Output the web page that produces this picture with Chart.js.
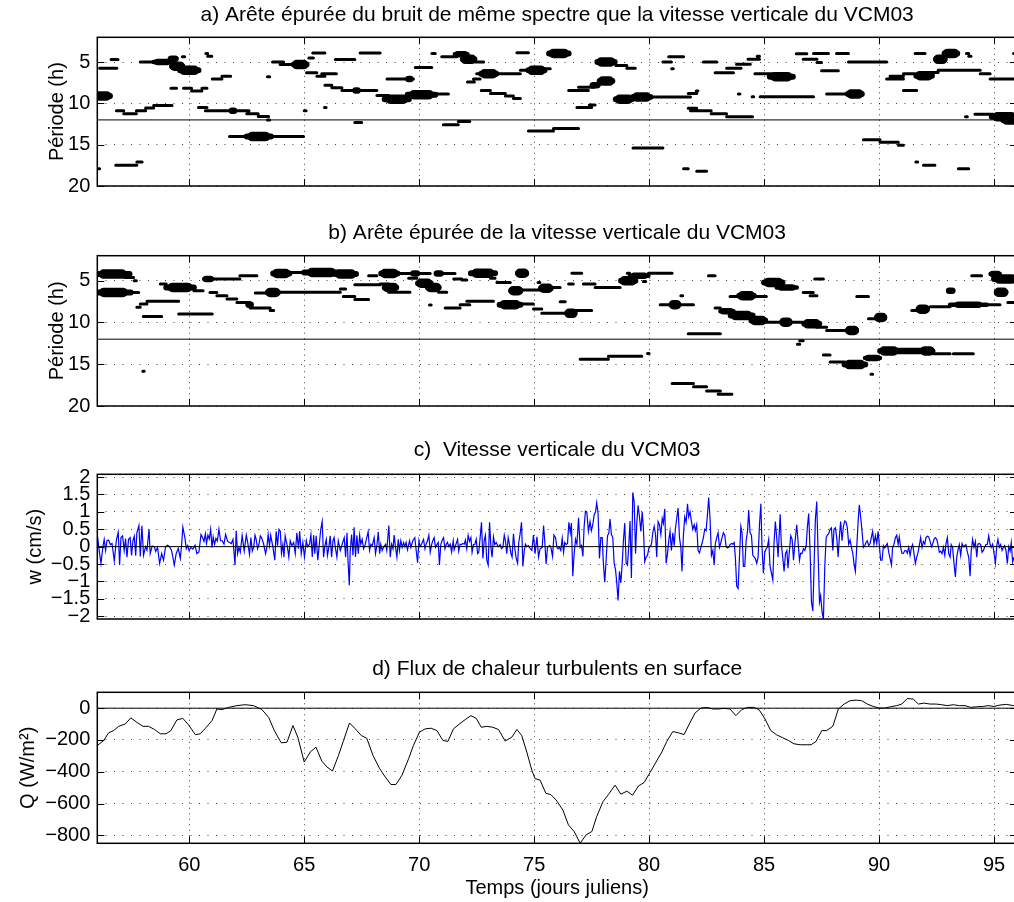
<!DOCTYPE html>
<html><head><meta charset="utf-8">
<script src="https://cdn.jsdelivr.net/npm/chart.js@4.4.0/dist/chart.umd.min.js"></script>
<style>
html,body{margin:0;padding:0;background:#fff;overflow:hidden;width:1014px;height:902px;position:relative;}
canvas{position:absolute;left:0;}
</style></head><body>
<canvas id="ca"></canvas><canvas id="cb"></canvas><canvas id="cc"></canvas><canvas id="cd"></canvas>
<script>
// ---------------- DATA ----------------
const xRange = [56, 96];                       // jours juliens
const xTickDays = [60, 65, 70, 75, 80, 85, 90, 95];
const periodRange = [2, 20];                   // heures (axe inversé)
const periodTicks = [5, 10, 15, 20];
const periodRefLine = 12;
const wRange = [-2.08, 2.08];
const wTicks = [-2, -1.5, -1, -0.5, 0, 0.5, 1, 1.5, 2];
const qRange = [-850, 100];
const qTicks = [-800, -600, -400, -200, 0];
const titles = [
  'a) Arête épurée du bruit de même spectre que la vitesse verticale du VCM03',
  'b) Arête épurée de la vitesse verticale du VCM03',
  'c)  Vitesse verticale du VCM03',
  'd) Flux de chaleur turbulents en surface'
];
const yTitles = ['Période (h)', 'Période (h)', 'w (cm/s)', 'Q (W/m²)'];
const xTitle = 'Temps (jours juliens)';

// ridges: [start day, end day, period (h), amplitude class 1..3]
const ridgesA = [
 [55.9,56.55,9.1,3],[56.0,56.1,17.9,1],[56.1,56.85,5.74,1],[56.6,56.9,4.7,1],
 [56.83,57.15,10.9,1],[57.15,57.7,11.24,1],[57.7,58.1,10.9,1],[58.1,58.45,10.56,1],[58.45,59.25,10.25,1],
 [56.8,57.72,17.5,1],[57.72,57.95,17.1,1],
 [57.87,58.5,4.98,1],[58.45,59.2,4.98,2],[59.15,59.45,4.6,2],[59.25,59.7,5.5,3],[59.6,60.4,6.0,3],[59.7,59.8,4.35,1],
 [59.2,59.45,8.17,1],[59.75,60.1,8.17,1],[60.1,60.55,8.5,1],[60.55,60.77,8.17,1],
 [60.72,60.8,3.95,1],[60.8,60.98,4.3,1],
 [60.4,60.77,10.5,1],[60.7,61.86,10.9,1],[61.82,61.98,10.9,2],[61.86,62.6,10.9,1],[62.5,63.0,11.24,1],[63.0,63.45,11.6,1],[63.4,63.5,12.0,1],
 [61.0,61.42,7.05,1],[61.42,61.8,6.7,1],
 [61.75,64.97,14.02,1],[62.5,63.55,14.02,3],
 [63.4,63.5,6.77,1],
 [63.62,64.1,4.98,1],[63.95,64.54,5.3,1],[64.55,65.1,5.3,3],
 [65.0,65.08,10.9,1],[65.2,65.4,4.5,1],[65.37,65.9,3.9,1],
 [65.1,65.55,6.3,1],[65.55,65.9,6.7,1],[65.76,66.4,6.4,1],[65.88,65.95,10.5,1],
 [65.9,66.2,7.8,1],[66.2,66.64,8.1,1],[66.64,68.16,8.45,1],[67.2,67.35,8.45,2],
 [66.35,67.2,4.7,1],[67.43,68.3,3.9,1],[67.2,67.5,12.3,1],
 [68.16,68.67,9.04,1],[68.5,69.55,9.5,3],[68.6,69.75,7.05,1],[69.5,69.65,7.05,2],
 [69.5,70.7,8.95,3],[70.77,71.27,8.85,1],
 [69.83,70.55,5.65,1],[70.55,70.7,3.95,1],
 [70.98,71.64,4.35,1],[71.55,72.1,4.06,2],[71.9,72.4,4.66,3],[72.45,72.8,5.0,1],
 [71.05,71.7,12.6,1],[71.7,72.2,12.2,1],
 [72.1,72.4,7.4,1],[72.36,72.65,7.05,1],[72.5,74.4,6.4,1],[72.7,73.35,6.4,3],
 [72.7,73.1,8.45,1],[73.1,73.75,8.8,1],[73.75,74.1,9.1,1],[74.1,74.4,9.4,1],
 [74.25,74.75,3.86,1],
 [75.65,76.5,3.95,3],
 [74.4,74.9,6.0,1],[74.75,75.45,6.0,3],[75.45,75.7,5.8,1],
 [77.75,78.5,4.98,3],[78.55,79.03,5.4,1],[79.03,79.4,5.75,1],
 [76.5,77.36,8.45,1],[76.93,77.6,8.05,1],[77.5,77.8,7.8,2],[77.85,78.4,7.3,3],
 [76.86,77.5,10.5,1],[77.4,77.65,10.2,1],
 [78.55,79.25,9.5,3],[79.3,80.05,9.24,3],[80.1,81.8,9.24,1],[81.7,82.07,8.8,1],[82.05,82.12,8.5,1],
 [74.75,75.84,13.35,1],[75.84,76.93,13.03,1],
 [79.3,80.6,15.4,1],
 [80.6,80.97,5.0,1],[80.85,81.5,4.35,1],[80.98,81.05,5.8,1],
 [81.5,81.7,17.9,1],[82.07,82.5,18.2,1],
 [81.7,82.07,10.6,1],[81.8,82.7,10.9,1],[82.7,83.37,11.24,1],[83.37,84.5,11.63,1],
 [82.36,82.94,4.98,1],
 [82.87,83.67,6.3,1],[83.37,84.0,5.74,1],[83.8,84.4,5.26,1],[84.3,84.8,4.66,1],[84.7,84.8,4.3,1],
 [83.88,83.95,8.85,1],[84.48,84.55,9.2,1],
 [84.6,85.4,6.4,1],[85.25,86.25,6.77,3],
 [84.83,87.15,9.2,1],
 [86.4,86.86,3.98,1],[87.15,87.8,3.95,1],[88.15,88.67,3.95,1],
 [86.7,87.3,4.66,1],[87.3,87.5,5.06,1],[87.5,88.23,6.06,1],
 [88.67,90.33,4.98,1],
 [87.72,88.67,8.85,1],[88.65,89.25,8.85,3],
 [89.32,90.04,14.4,1],[90.04,90.84,14.7,1],[90.84,91.06,15.06,1],
 [90.33,91.06,7.05,1],[90.48,91.06,6.7,1],[91.06,91.57,6.4,1],[91.62,92.3,6.65,3],[92.2,92.57,6.26,1],
 [92.57,94.4,5.98,1],[94.4,94.83,6.4,1],[94.83,96,7.05,1],
 [91.06,91.64,8.45,1],[91.57,92.0,3.95,1],
 [92.48,92.85,4.66,3],[92.85,93.4,3.95,3],
 [93.8,93.9,3.95,1],[93.9,94.0,4.3,1],
 [91.6,91.68,17.1,1],[91.93,92.43,17.5,1],[93.45,93.9,17.9,1],
 [93.76,93.84,11.63,1],[94.17,94.97,11.3,1],[94.9,96,11.63,3],[95.4,96,12.0,3],
 [95.85,96,3.95,1]
];
const ridgesB = [
 [55.95,57.4,4.2,3],[57.2,57.58,4.6,1],[57.6,57.7,5.0,1],
 [55.95,57.45,6.4,3],[57.43,57.8,6.4,1],
 [57.72,57.87,8.17,1],[57.87,58.16,7.78,1],[58.16,59.54,7.46,1],
 [58.0,58.8,9.29,1],
 [58.74,59.0,5.4,1],[59.0,60.2,5.8,3],[60.2,60.6,6.19,1],
 [59.54,61.0,8.97,1],
 [60.65,61.0,4.8,2],[61.06,62.2,4.8,1],[62.2,62.94,4.4,1],
 [60.9,61.2,6.4,1],[61.2,61.64,6.8,1],[61.64,62.07,7.2,1],[62.07,62.65,7.6,1],[62.55,62.7,7.86,2],[62.65,63.52,8.25,1],[63.52,63.67,8.57,1],
 [62.87,63.45,6.47,1],[63.42,63.85,6.4,3],[63.9,66.57,6.39,1],[66.57,66.8,6.0,1],
 [63.65,64.35,4.13,3],[64.3,64.97,4.0,1],[65.0,66.5,4.0,3],[66.35,67.25,4.2,3],
 [66.7,67.2,6.9,1],[67.2,67.8,7.26,1],
 [67.2,68.3,5.47,1],[67.8,68.16,4.4,1],
 [68.35,69.05,4.13,3],[69.1,69.6,4.13,1],[69.7,69.95,4.13,2],[69.97,70.48,4.13,1],[70.72,70.98,4.13,2],[71.0,71.56,4.13,1],
 [68.3,68.67,5.4,1],[68.5,69.0,5.8,3],[68.67,69.6,6.39,1],
 [69.54,69.9,4.7,1],[69.95,70.5,5.3,3],[70.38,70.85,5.8,3],[70.84,71.2,6.39,1],
 [70.45,70.52,7.9,1],
 [71.13,71.78,8.25,1],[71.78,72.2,7.86,1],[72.07,73.23,7.46,1],
 [71.86,72.07,4.9,1],[72.25,73.3,4.1,3],[73.1,73.3,4.7,1],[73.38,73.96,5.2,1],
 [71.5,71.85,4.8,1],
 [73.5,74.4,7.86,3],[74.0,74.4,6.19,3],[74.3,74.65,4.1,3],
 [57.98,58.04,15.83,1],
 [74.4,75.26,6.1,1],[75.3,75.72,5.9,3],[75.77,76.13,5.8,1],
 [74.4,74.97,7.78,1],[74.97,75.33,8.37,1],[75.33,76.64,8.9,1],[76.45,76.75,8.9,3],[76.78,77.5,8.57,1],
 [75.17,75.25,5.2,1],[76.64,77.07,4.1,1],[76.5,76.7,5.4,1],[76.13,76.35,7.5,1],
 [77.14,77.65,5.4,1],[77.65,78.74,5.8,1],[78.78,79.4,5.0,3],[79.17,79.97,4.4,2],[79.75,79.85,5.1,1],[79.05,79.15,4.1,1],
 [79.97,81.0,4.1,1],
 [77.0,78.23,14.4,1],[78.23,79.68,14.05,1],[79.93,80.0,13.7,1],
 [80.48,81.93,7.86,1],[81.0,81.25,7.86,3],[81.38,81.46,6.8,1],
 [81.7,83.1,11.35,1],
 [81.0,81.93,17.3,1],[81.93,82.5,17.7,1],[82.5,83.1,18.2,1],[83.0,83.6,18.6,1],
 [82.58,82.87,4.4,1],
 [82.87,83.1,8.25,1],[83.1,83.67,8.65,2],[83.55,84.5,9.17,3],[84.45,85.05,9.76,3],[85.1,86.0,9.96,1],[85.8,86.1,9.96,3],[86.13,86.7,9.96,1],[86.75,87.4,10.16,3],[87.29,87.72,10.56,1],[87.72,88.74,10.95,1],[88.65,89.0,10.95,3],
 [83.52,85.1,6.9,1],[83.92,84.55,6.8,3],
 [85.0,85.8,5.2,3],[85.55,86.42,5.8,2],
 [86.7,87.14,6.4,1],[87.0,87.3,6.8,1],[87.2,87.58,4.8,1],
 [89.03,89.54,6.9,1],
 [86.45,86.55,12.6,1],[86.55,86.7,12.2,1],
 [87.58,87.87,13.9,1],[87.87,88.52,14.72,1],[88.5,89.4,15.04,3],[89.39,90.04,14.25,2],[90.04,92.36,13.4,2],[90.05,90.8,13.4,3],[91.9,92.3,13.4,3],[92.36,93.09,13.73,1],[93.23,94.1,13.73,1],
 [89.65,89.72,16.2,1],
 [89.54,90.19,9.56,1],[89.92,90.22,9.4,3],
 [91.42,92.07,8.57,1],[91.72,92.08,8.4,3],[92.22,93.09,8.1,1],[93.09,94.68,7.86,2],[94.68,95.26,7.86,1],
 [93.0,93.23,6.2,2],
 [94.03,94.46,4.4,1],[94.85,95.25,4.2,2],[95.0,96,4.8,3],
 [95.12,95.5,6.39,3],[95.6,96,7.6,1]
];

// vitesse verticale w (cm/s): [jour, valeur]
const wPoints = [
 [56.01,0.29],[56.10,-0.2],[56.16,-0.48],[56.25,0.03],[56.30,0.21],[56.36,-0.11],[56.42,0.17],[56.49,0.19],[56.57,0.06],[56.64,0.09],
 [56.74,-0.41],[56.83,0.19],[56.91,0.41],[56.97,-0.53],[57.03,0.26],[57.10,0.31],[57.17,-0.11],[57.23,0.23],[57.29,-0.3],[57.36,0.21],
 [57.43,0.26],[57.49,-0.25],[57.55,0.17],[57.61,0.3],[57.67,-0.26],[57.72,0.4],[57.81,0.61],[57.87,-0.28],[57.94,0.6],[58.01,-0.25],
 [58.10,0.0],[58.16,-0.1],[58.25,0.5],[58.30,-0.2],[58.39,0.02],[58.48,0.0],[58.54,-0.14],[58.62,-0.02],[58.71,-0.48],[58.80,-0.2],
 [58.88,-0.39],[58.97,0.0],[59.06,0.04],[59.14,0.0],[59.23,-0.11],[59.35,-0.53],[59.43,-0.2],[59.52,-0.05],[59.61,-0.34],[59.67,0.07],
 [59.72,0.56],[59.81,0.26],[59.87,-0.06],[59.93,0.03],[59.99,-0.11],[60.07,-0.02],[60.16,-0.07],[60.25,0.04],[60.33,-0.2],[60.42,-0.15],
 [60.51,0.35],[60.58,0.26],[60.64,0.15],[60.70,0.37],[60.75,0.09],[60.81,0.33],[60.87,0.22],[60.93,0.5],[60.99,-0.02],[61.04,0.28],
 [61.10,0.06],[61.16,0.24],[61.22,0.16],[61.29,0.5],[61.36,0.17],[61.43,0.17],[61.51,0.07],[61.58,0.35],[61.67,0.15],[61.75,0.12],
 [61.83,0.09],[61.90,0.21],[61.99,-0.53],[62.04,0.46],[62.10,-0.2],[62.16,-0.02],[62.22,-0.16],[62.30,0.32],[62.39,-0.13],[62.48,0.33],
 [62.54,0.12],[62.62,-0.22],[62.68,0.26],[62.74,-0.13],[62.80,-0.02],[62.86,0.33],[62.91,0.21],[62.97,-0.06],[63.03,0.06],[63.09,0.31],
 [63.14,0.26],[63.23,0.09],[63.32,-0.2],[63.38,0.0],[63.43,0.35],[63.49,0.03],[63.54,0.33],[63.64,-0.02],[63.72,-0.39],[63.78,0.44],
 [63.84,0.03],[63.90,0.5],[63.96,0.44],[64.01,-0.2],[64.07,0.06],[64.12,-0.3],[64.17,0.31],[64.26,0.03],[64.33,-0.3],
 [64.39,0.17],[64.46,0.03],[64.54,0.12],[64.61,-0.2],[64.68,0.4],[64.75,-0.06],[64.80,0.44],[64.87,-0.2],[64.94,0.12],[65.01,-0.3],
 [65.09,0.17],[65.14,0.0],[65.23,0.07],[65.29,0.35],[65.35,-0.3],[65.41,0.33],[65.46,-0.2],[65.52,0.31],[65.59,-0.39],[65.67,0.17],
 [65.72,0.5],[65.78,0.72],[65.84,-0.3],[65.90,0.03],[65.96,0.21],[66.01,-0.25],[66.07,-0.02],[66.13,0.31],[66.19,-0.3],[66.25,0.17],
 [66.30,0.26],[66.36,-0.06],[66.42,-0.3],[66.48,0.17],[66.57,-0.11],[66.65,0.07],[66.74,0.26],[66.80,-0.3],[66.86,0.4],[66.91,-0.48],
 [66.96,-1.11],[67.00,-0.11],[67.06,0.35],[67.12,-0.25],[67.17,0.56],[67.23,-0.3],[67.29,0.33],[67.35,-0.2],[67.41,0.33],[67.46,0.07],
 [67.52,0.21],[67.58,-0.06],[67.64,0.03],[67.72,0.26],[67.78,0.43],[67.84,-0.11],[67.90,0.07],[67.96,0.03],[68.04,0.26],[68.10,-0.2],
 [68.16,0.03],[68.22,0.43],[68.28,-0.2],[68.33,0.07],[68.39,-0.11],[68.45,-0.02],[68.54,0.07],[68.59,-0.11],[68.68,0.61],[68.74,-0.3],
 [68.80,0.07],[68.86,-0.06],[68.91,0.33],[68.97,-0.02],[69.03,-0.3],[69.09,0.21],[69.14,-0.11],[69.20,0.17],[69.26,-0.02],[69.32,0.12],
 [69.38,0.0],[69.43,0.12],[69.49,-0.09],[69.58,0.17],[69.64,-0.02],[69.72,0.17],[69.81,0.26],[69.87,-0.11],[69.93,-0.46],[69.99,0.17],
 [70.04,0.0],[70.10,0.07],[70.19,0.21],[70.25,-0.06],[70.30,0.07],[70.36,0.17],[70.42,0.33],[70.48,-0.16],[70.54,0.06],[70.59,0.17],
 [70.65,0.26],[70.71,-0.02],[70.77,0.06],[70.83,0.12],[70.88,-0.53],[70.94,0.06],[71.00,0.19],[71.06,0.26],[71.12,-0.06],[71.17,0.06],
 [71.23,0.12],[71.29,0.0],[71.35,0.07],[71.41,-0.16],[71.48,0.17],[71.52,-0.09],[71.58,0.03],[71.67,0.21],[71.72,-0.13],[71.78,0.07],
 [71.84,0.06],[71.90,0.09],[71.96,0.07],[72.01,0.19],[72.07,-0.06],[72.13,0.33],[72.19,0.15],[72.25,0.26],[72.30,-0.16],[72.36,0.06],
 [72.42,0.07],[72.48,0.21],[72.54,-0.2],[72.59,-0.16],[72.65,0.26],[72.71,0.70],[72.77,-0.34],[72.83,0.19],[72.88,0.33],[72.94,-0.39],
 [73.00,-0.53],[73.06,0.70],[73.12,-0.02],[73.17,-0.3],[73.23,0.28],[73.29,0.06],[73.35,0.12],[73.41,0.03],[73.46,0.0],[73.52,0.06],
 [73.58,-0.06],[73.64,-0.02],[73.70,0.33],[73.75,0.17],[73.81,-0.2],[73.87,0.26],[73.93,0.06],[73.99,-0.2],[74.04,-0.3],[74.10,0.37],
 [74.16,-0.06],[74.22,-0.34],[74.28,-0.48],[74.33,0.12],[74.39,0.37],[74.45,0.70],[74.51,-0.57],[74.57,-0.11],[74.62,0.07],[74.68,0.0],
 [74.75,0.03],[74.83,-0.06],[74.90,-0.11],[74.97,0.33],[75.04,-0.2],[75.12,0.28],[75.19,-0.3],[75.26,-0.06],[75.35,-0.02],[75.41,0.61],
 [75.46,0.17],[75.52,-0.5],[75.58,-0.02],[75.67,0.03],[75.72,0.0],[75.80,-0.28],[75.86,0.33],[75.93,0.26],[75.99,-0.02],[76.04,-0.06],
 [76.10,-0.02],[76.16,-0.11],[76.22,0.24],[76.28,-0.16],[76.33,0.12],[76.39,0.06],[76.45,0.09],[76.51,0.7],[76.57,0.4],[76.62,0.68],
 [76.68,-0.85],[76.74,-0.2],[76.80,0.21],[76.86,0.07],[76.93,0.83],[77.00,-0.02],[77.06,0.03],[77.12,-0.28],[77.17,0.54],[77.23,1.02],
 [77.29,1.0],[77.36,0.44],[77.43,0.72],[77.49,0.46],[77.55,0.63],[77.61,0.91],[77.67,1.0],[77.72,1.26],[77.78,0.96],[77.84,-0.34],
 [77.90,0.26],[77.96,0.26],[78.01,-0.48],[78.07,-1.02],[78.13,-0.39],[78.19,0.31],[78.25,0.4],[78.30,0.79],[78.36,0.35],[78.42,0.26],
 [78.48,-0.48],[78.54,-0.67],[78.59,-1.02],[78.65,-1.55],[78.71,-0.71],[78.77,-1.04],[78.83,-0.48],[78.88,0.15],[78.94,0.68],[79.00,-0.48],
 [79.06,-0.53],[79.12,0.09],[79.17,0.74],[79.23,-0.9],[79.29,1.56],[79.35,1.28],[79.41,-0.2],[79.46,0.63],[79.52,1.19],[79.58,0.86],
 [79.64,0.44],[79.70,1.0],[79.75,0.54],[79.81,-0.43],[79.87,-0.3],[79.93,-0.25],[79.99,-0.04],[80.04,0.0],[80.10,0.07],[80.16,0.4],
 [80.22,0.58],[80.28,0.35],[80.33,-0.3],[80.39,0.72],[80.45,0.63],[80.51,0.35],[80.57,0.81],[80.62,0.67],[80.68,1.09],[80.74,-0.48],
 [80.80,-0.2],[80.86,0.21],[80.91,0.44],[80.97,-0.11],[81.03,0.4],[81.09,0.03],[81.14,0.5],[81.20,0.81],[81.26,1.11],[81.32,0.26],
 [81.38,-0.02],[81.43,-0.71],[81.49,0.31],[81.55,0.86],[81.61,0.7],[81.67,1.23],[81.72,0.86],[81.78,1.0],[81.84,0.72],[81.90,0.5],
 [81.96,0.63],[82.01,0.46],[82.07,0.63],[82.13,-0.11],[82.19,-0.18],[82.25,-0.02],[82.30,0.09],[82.36,0.26],[82.42,0.5],[82.48,0.46],
 [82.54,0.95],[82.59,1.41],[82.65,0.81],[82.71,-0.25],[82.77,-0.11],[82.83,-0.53],[82.88,0.09],[82.94,0.26],[83.00,0.4],[83.06,-0.02],
 [83.12,0.12],[83.17,0.26],[83.23,0.4],[83.29,0.33],[83.35,0.0],[83.41,-0.04],[83.46,-0.02],[83.52,0.06],[83.58,0.09],[83.64,0.07],
 [83.70,0.12],[83.75,-0.3],[83.81,-1.13],[83.87,-1.2],[83.93,-0.3],[83.99,0.58],[84.04,0.4],[84.10,-0.57],[84.16,-0.57],[84.22,0.17],
 [84.28,0.44],[84.33,1.05],[84.39,0.4],[84.45,0.33],[84.51,-0.25],[84.57,-0.3],[84.62,-0.34],[84.68,-0.48],[84.74,-0.3],[84.80,0.63],
 [84.86,1.23],[84.91,-0.02],[84.97,-0.76],[85.03,-0.16],[85.09,-0.06],[85.14,-0.02],[85.20,0.21],
 [85.26,-0.57],[85.32,-0.76],[85.38,-0.96],[85.43,0.07],[85.49,0.72],[85.55,0.26],[85.61,-0.3],[85.70,0.93],[85.75,0.07],[85.81,-0.3],
 [85.87,-0.71],[85.93,-0.2],[85.99,-0.11],[86.04,-0.62],[86.10,-0.13],[86.16,0.31],[86.22,0.21],[86.28,-0.39],[86.33,0.03],[86.42,0.63],
 [86.48,0.12],[86.54,-0.39],[86.59,-0.19],[86.65,-0.2],[86.71,-0.06],[86.77,-0.11],[86.83,0.03],[86.88,0.54],[86.94,0.95],[87.00,-0.11],
 [87.06,-1.59],[87.12,-1.85],[87.17,-0.67],[87.23,0.77],[87.29,1.30],[87.35,-0.2],[87.41,-1.59],[87.46,-1.41],[87.52,-1.87],[87.58,-2.1],
 [87.64,-0.57],[87.70,0.26],[87.75,0.33],[87.81,0.37],[87.87,0.5],[87.93,0.54],[87.99,-0.11],[88.04,0.5],[88.10,0.54],[88.16,0.26],
 [88.22,-0.3],[88.28,0.33],[88.33,0.72],[88.39,0.17],[88.45,0.58],[88.51,0.74],[88.57,0.7],[88.62,0.54],[88.68,0.07],[88.74,0.19],
 [88.80,-0.02],[88.86,-0.2],[88.91,-0.48],[88.97,-0.71],[89.03,-0.02],[89.09,0.72],[89.14,1.2],[89.20,0.86],[89.26,0.44],[89.32,-0.02],
 [89.38,0.03],[89.43,0.12],[89.49,0.17],[89.55,0.03],[89.61,0.09],[89.67,0.28],[89.72,0.44],[89.78,0.07],[89.84,0.31],[89.90,0.09],
 [89.96,0.44],[90.01,0.06],[90.07,-0.39],[90.13,-0.39],[90.19,0.03],[90.25,-0.04],[90.30,0.03],[90.36,0.09],[90.42,-0.16],[90.48,-0.34],
 [90.54,-0.53],[90.59,-0.02],[90.65,0.07],[90.71,0.26],[90.77,0.33],[90.83,0.07],[90.88,0.28],[90.94,-0.02],[91.00,-0.2],[91.06,-0.19],
 [91.12,-0.11],[91.17,-0.11],[91.23,-0.19],[91.29,-0.02],[91.35,-0.25],[91.41,-0.02],[91.46,0.06],[91.52,-0.2],[91.58,-0.48],[91.64,-0.3],
 [91.70,-0.16],[91.75,0.03],[91.81,0.26],[91.87,-0.02],[91.93,0.15],[91.99,0.07],[92.04,0.26],[92.10,0.3],[92.16,0.28],[92.22,0.15],
 [92.28,0.0],[92.33,0.07],[92.39,0.21],[92.45,0.26],[92.51,0.21],[92.57,0.03],[92.62,-0.16],[92.68,-0.13],[92.74,-0.2],[92.80,-0.02],
 [92.86,-0.25],[92.91,0.07],[92.97,0.26],[93.03,-0.2],[93.09,-0.3],[93.14,0.06],[93.20,-0.02],[93.26,-0.48],[93.32,-0.87],[93.38,-0.3],
 [93.43,-0.11],[93.49,0.06],[93.55,-0.25],[93.61,0.09],[93.67,0.0],[93.72,0.03],[93.78,0.06],[93.84,-0.16],[93.90,-0.3],[93.96,-0.85],
 [94.01,-0.11],[94.07,0.21],[94.13,-0.02],[94.19,0.15],[94.25,-0.3],[94.30,0.07],[94.36,0.09],[94.42,0.06],[94.48,-0.16],[94.54,-0.11],
 [94.59,-0.02],[94.65,0.06],[94.71,0.07],[94.77,0.31],[94.83,0.06],[94.88,-0.02],[94.94,0.07],[95.00,-0.19],[95.06,-0.48],[95.12,0.03],
 [95.17,0.21],[95.23,-0.02],[95.29,0.06],[95.35,-0.11],[95.41,-0.02],[95.46,0.03],[95.52,-0.11],[95.58,-0.48],[95.64,0.0],[95.70,-0.13],
 [95.75,0.12],[95.81,-0.44],[95.87,-0.3]
];

// flux de chaleur Q (W/m2): [jour, valeur]
const qPoints = [
 [56.01,-234],[56.28,-203],[56.49,-155],[56.71,-141],[56.93,-114],[57.22,-99],[57.46,-61],[57.72,-89],[57.99,-114],[58.23,-114],
 [58.49,-134],[58.74,-161],[58.99,-161],[59.20,-141],[59.46,-74],[59.72,-64],[59.97,-105],[60.26,-166],[60.48,-161],[60.74,-120],
 [60.99,-78],[61.20,-5],[61.42,-9],[61.71,5],[62.07,16],[62.43,22],[62.80,16],[63.16,-9],[63.45,-57],[63.70,-141],
 [64.00,-218],[64.25,-214],[64.51,-109],[64.72,-182],[65.00,-339],[65.26,-276],[65.51,-245],[65.77,-334],[65.99,-370],[66.23,-395],
 [66.49,-297],[66.71,-203],[66.97,-93],[67.22,-130],[67.48,-172],[67.72,-189],[67.99,-297],[68.28,-380],[68.52,-432],[68.77,-480],
 [68.99,-480],[69.25,-422],[69.54,-318],[69.75,-234],[70.01,-151],[70.26,-130],[70.52,-126],[70.77,-141],[71.03,-203],[71.25,-209],
 [71.49,-130],[71.75,-99],[72.00,-72],[72.25,-47],[72.48,-64],[72.70,-120],[72.94,-114],[73.20,-120],[73.45,-134],[73.74,-207],
 [74.03,-182],[74.25,-134],[74.46,-172],[74.68,-276],[74.90,-391],[75.04,-443],[75.26,-453],[75.51,-536],[75.72,-543],[75.96,-578],
 [76.25,-641],[76.49,-734],[76.74,-776],[77.00,-849],[77.26,-797],[77.51,-776],[77.72,-682],[77.99,-589],[78.23,-543],[78.52,-484],
 [78.77,-541],[79.03,-522],[79.28,-547],[79.54,-489],[79.78,-468],[80.04,-405],[80.30,-339],[80.55,-276],[80.77,-209],[81.03,-147],
 [81.28,-155],[81.52,-166],[81.75,-99],[82.00,-30],[82.26,1],[82.51,5],[82.77,-5],[83.01,-5],[83.26,-1],[83.52,-5],
 [83.77,-47],[84.03,-9],[84.28,5],[84.54,5],[84.78,-9],[85.04,-68],[85.29,-141],[85.55,-168],[85.81,-186],[86.06,-203],
 [86.30,-224],[86.57,-230],[86.83,-230],[87.04,-230],[87.26,-209],[87.51,-141],[87.72,-141],[87.99,-114],[88.23,-5],[88.48,26],
 [88.74,47],[89.00,51],[89.25,47],[89.49,26],[89.75,11],[90.00,1],[90.26,1],[90.51,9],[90.77,16],[90.99,26],
 [91.23,61],[91.49,57],[91.71,26],[91.96,32],[92.22,26],[92.48,26],[92.72,22],[92.97,16],[93.23,22],[93.49,16],
 [93.74,16],[93.99,5],[94.25,9],[94.51,11],[94.75,16],[95.00,11],[95.26,20],[95.55,24],[95.84,16],[96.00,20]
];

// ---------------- STYLE / LAYOUT ----------------
Chart.defaults.font.family = '"Liberation Sans", Arial, Helvetica, sans-serif';
Chart.defaults.color = '#000';
const CANVAS_W = 1040, PLOT_LEFT = 97.3, PLOT_RIGHT = 1017;
const TITLE_FONT = 21, TICK_FONT = 20, LABEL_FONT = 20;
const GRID_COLOR = 'rgba(0,0,0,0.75)';
const TICK_LEN = 7;
// line widths by amplitude class: [full length, central part]
const ridgeWidth = {1: [3, 3], 2: [4.5, 6.5], 3: [6, 9.5]};

const layouts = [
 {id:'ca', top:0,   height:205, chartTop:37.3,  chartBottom:188.3, titleY:15,  yTitleX:57.5},
 {id:'cb', top:212, height:215, chartTop:255.7, chartBottom:406,   titleY:233, yTitleX:57.5},
 {id:'cc', top:430, height:208, chartTop:474.3, chartBottom:624,   titleY:450, yTitleX:35},
 {id:'cd', top:645, height:257, chartTop:692.3, chartBottom:843.3, titleY:669, yTitleX:28, xLabelY:865, xTitleY:888}
];

const fmt = v => v < 0 ? '\u2212' + String(Math.abs(v)) : String(v);

const matlabAxes = {
  id: 'matlabAxes',
  afterDraw(chart) {
    const {ctx, chartArea: a, scales: {x, y}} = chart;
    ctx.save();
    ctx.strokeStyle = '#000';
    ctx.lineWidth = 1;
    ctx.beginPath();
    x.ticks.forEach(t => {
      const px = Math.round(x.getPixelForValue(t.value)) + 0.5;
      ctx.moveTo(px, a.top); ctx.lineTo(px, a.top + TICK_LEN);
      ctx.moveTo(px, a.bottom); ctx.lineTo(px, a.bottom - TICK_LEN);
    });
    y.ticks.forEach(t => {
      const py = Math.round(y.getPixelForValue(t.value)) + 0.5;
      ctx.moveTo(a.left, py); ctx.lineTo(a.left + TICK_LEN, py);
      ctx.moveTo(a.right, py); ctx.lineTo(a.right - TICK_LEN, py);
    });
    ctx.stroke();
    ctx.lineWidth = 1.5;
    ctx.strokeRect(a.left, a.top, a.right - a.left, a.bottom - a.top);
    ctx.restore();
  }
};

function refLine(v) {
  return {data: [{x: xRange[0], y: v}, {x: xRange[1], y: v}], showLine: true,
          borderColor: '#000', borderWidth: 1, pointRadius: 0};
}

// each ridge: full-length stroke, plus a thicker stroke on its central part (tapered blob)
function ridgeDatasets(ridges) {
  const sets = [];
  [1, 2, 3].forEach(c => {
    const full = [], core = [];
    ridges.filter(r => r[3] === c).forEach(r => {
      full.push({x: r[0], y: r[2]}, {x: r[1], y: r[2]}, {x: r[1], y: null});
      if (c > 1) {
        const q = (r[1] - r[0]) * 0.22;
        core.push({x: r[0] + q, y: r[2]}, {x: r[1] - q, y: r[2]}, {x: r[1], y: null});
      }
    });
    sets.push({data: full, showLine: true, spanGaps: false, borderColor: '#000', borderWidth: ridgeWidth[c][0],
               pointRadius: 0, borderCapStyle: 'round', borderJoinStyle: 'round'});
    if (c > 1) sets.push({data: core, showLine: true, spanGaps: false, borderColor: '#000', borderWidth: ridgeWidth[c][1],
               pointRadius: 0, borderCapStyle: 'round', borderJoinStyle: 'round'});
  });
  return sets;
}

function makeChart(i, datasets, yCfg, yTicks) {
  const L = layouts[i];
  const isLast = i === 3;
  const cv = document.getElementById(L.id);
  cv.width = CANVAS_W; cv.height = L.height;
  cv.style.width = CANVAS_W + 'px'; cv.style.height = L.height + 'px';
  cv.style.top = L.top + 'px';
  const tLH = TITLE_FONT * 1.2, lLH = TICK_FONT * 1.2, aLH = LABEL_FONT * 1.2;
  const pt = L.titleY - L.top - tLH / 2;
  const pb = (L.chartTop - L.top) - pt - tLH;
  const xH = L.height - (L.chartBottom - L.top);
  const xTickPad = isLast ? (L.xLabelY - L.chartBottom - lLH / 2) : 0;
  const xTitlePad = isLast ? (L.top + L.height - L.xTitleY - aLH / 2) : 0;
  return new Chart(cv, {
    type: 'scatter',
    data: {datasets},
    options: {
      responsive: false, animation: false, devicePixelRatio: 1, events: [],
      layout: {padding: {left: 0, right: CANVAS_W - PLOT_RIGHT, top: 0, bottom: 0}},
      plugins: {
        legend: {display: false}, tooltip: {enabled: false},
        title: {display: true, text: titles[i], fullSize: false, color: '#000',
                font: {size: TITLE_FONT, weight: 'normal'}, padding: {top: pt, bottom: pb}}
      },
      scales: {
        x: {
          type: 'linear', min: xRange[0], max: xRange[1],
          afterBuildTicks: s => { s.ticks = xTickDays.map(v => ({value: v})); },
          afterFit: s => { s.height = xH; },
          grid: {color: GRID_COLOR, lineWidth: 1, drawTicks: false},
          border: {display: false, dash: [1, 4.5]},
          ticks: {display: isLast, padding: xTickPad, maxRotation: 0, autoSkip: false,
                  font: {size: TICK_FONT}, color: '#000', callback: v => String(v)},
          title: {display: isLast, text: xTitle, color: '#000', font: {size: LABEL_FONT},
                  padding: {top: 0, bottom: xTitlePad}}
        },
        y: Object.assign({
          type: 'linear',
          afterBuildTicks: s => { s.ticks = yTicks.map(v => ({value: v})); },
          afterFit: s => { s.width = PLOT_LEFT; },
          grid: {color: GRID_COLOR, lineWidth: 1, drawTicks: false},
          border: {display: false, dash: [1, 7.5]},
          ticks: {padding: 7, autoSkip: false, font: {size: TICK_FONT}, color: '#000', callback: fmt},
          title: {display: true, text: yTitles[i], color: '#000', font: {size: LABEL_FONT},
                  padding: {top: L.yTitleX - aLH / 2, bottom: 0}}
        }, yCfg)
      }
    },
    plugins: [matlabAxes]
  });
}

// a) and b) ridges
makeChart(0, [refLine(periodRefLine), ...ridgeDatasets(ridgesA)],
  {min: periodRange[0], max: periodRange[1], reverse: true}, periodTicks);
makeChart(1, [refLine(periodRefLine), ...ridgeDatasets(ridgesB)],
  {min: periodRange[0], max: periodRange[1], reverse: true}, periodTicks);
// c) vertical velocity
makeChart(2, [refLine(0),
  {data: wPoints.map(p => ({x: p[0], y: p[1]})), showLine: true, borderColor: '#0000ff',
   borderWidth: 1.2, pointRadius: 0, tension: 0}],
  {min: wRange[0], max: wRange[1]}, wTicks);
// d) heat flux
makeChart(3, [refLine(0),
  {data: qPoints.map(p => ({x: p[0], y: p[1]})), showLine: true, borderColor: '#000',
   borderWidth: 1, pointRadius: 0, tension: 0}],
  {min: qRange[0], max: qRange[1]}, qTicks);
</script>
</body></html>
